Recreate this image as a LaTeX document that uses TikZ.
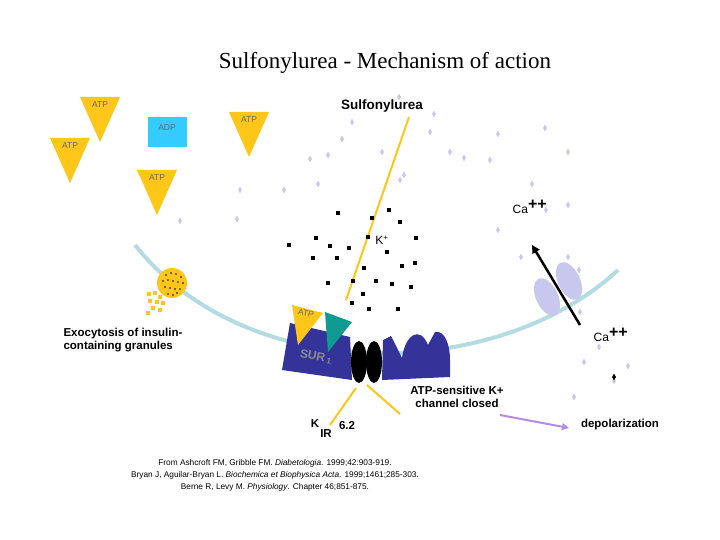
\documentclass[tikz,border=0pt]{standalone}
\usepackage{fontspec}
\setmainfont{Liberation Serif}
\setsansfont{Liberation Sans}
\usetikzlibrary{arrows.meta,shapes.geometric}
\definecolor{atpyel}{HTML}{FFC61A}
\definecolor{membr}{HTML}{B2DCE2}
\definecolor{lav}{HTML}{C8C8EE}
\definecolor{chanblue}{HTML}{33339A}
\definecolor{adpcyan}{HTML}{33CCFF}
\definecolor{tealx}{HTML}{0F9A92}
\definecolor{depol}{HTML}{B48CE6}
\begin{document}
\begin{tikzpicture}[x=1pt,y=-1pt,
    lbl/.style={font=\sffamily\bfseries\fontsize{11.5}{13}\selectfont, align=center, inner sep=1pt},
    atptxt/.style={font=\sffamily\fontsize{8.5}{9}\selectfont, text=black!60, inner sep=0pt},
    ref/.style={font=\sffamily\fontsize{8.3}{12}\selectfont, align=center},
    ion/.style={fill=black, minimum size=3.5pt, inner sep=0pt},
    dia/.style={fill=lav, diamond, minimum width=4pt, minimum height=7pt, inner sep=0pt},
    ca/.style={font=\sffamily\fontsize{12}{14}\selectfont, inner sep=1pt},
  ]
  \useasboundingbox (0,0) rectangle (720,540);
  % title
  \node[font=\fontsize{23}{26}\selectfont] (title) at (385,63) {Sulfonylurea - Mechanism of action};
  % membrane
  \draw[membr, line width=4pt] (135,245) .. controls (250,390) and (500,380) .. (618,270);
  % ATP / ADP
  \foreach \x/\y [count=\i] in {100/97, 70/138, 157/170, 249/112} {
    \fill[atpyel] (\x-20,\y) -- (\x+20,\y) -- (\x,\y+45) -- cycle;
    \node[atptxt] (atp\i) at (\x,\y+8) {ATP};
  }
  \fill[adpcyan] (148,117) rectangle (187,147);
  \node[atptxt] (adp) at (167,128) {ADP};
  % drug
  \node[lbl, font=\sffamily\bfseries\fontsize{13.5}{15}\selectfont] (sulf) at (382,106) {Sulfonylurea};
  \draw[atpyel, line width=2pt] (409,117) -- (346,300);
  % drug molecules
  \foreach \x/\y in {399/97,434/114,430/132,328/155,382/152,450/152,568/152,240/190,180/221,237/219,318/184,404/175,464/158,490/160,532/184,546/210,568/205,498/230,521/257,568/257,579/270,580/312,536/287,584/362,599/347,628/366,614/381,574/397,498/134,545/128,400/180,352/122,310/159,284/190,342/139} {
    \node[dia] at (\x,\y) {};
  }
  % K+ ions
  \foreach \x/\y in {338/213,372/218,389/210,400/222,289/245,316/238,330/246,349/248,368/237,416/238,313/258,337/258,387/252,415/263,364/268,402/266,328/283,353/281,376/281,392/284,363/294,352/303,369/309,398/309,411/287} {
    \node[ion] at (\x,\y) {};
  }
  \node[ca] (kion) at (382,240) {K\textsuperscript{+}};
  \node[ca] (ca1) at (530,207) {Ca\textsuperscript{\bfseries\fontsize{16}{16}\selectfont++}};
  \node[ca] (ca2) at (611,335) {Ca\textsuperscript{\bfseries\fontsize{16}{16}\selectfont++}};
  % calcium channel
  \fill[lav, rotate around={25:(547,297)}] (547,297) ellipse (11 and 20);
  \fill[lav, rotate around={25:(569,281)}] (569,281) ellipse (11 and 20);
  \coordinate (cabot) at (580,325);
  \coordinate (catop) at (532,245);
  \draw[line width=2.5pt, -{Triangle[length=8pt,width=8pt]}] (cabot) -- (catop);
  \node[fill=black, diamond, minimum width=4pt, minimum height=7pt, inner sep=0pt] (cad) at (614,377) {};
  % granule
  \fill[atpyel] (172,283) circle (15);
  \foreach \x/\y in {166/275,171/273,176/274,181/277,163/281,168/280,173/281,178/282,183/283,165/287,170/288,175/289,180/289,168/294,173/295,177/293} {
    \fill[black] (\x,\y) circle (0.9);
  }
  \foreach \x/\y in {149/294,155/293,160/297,150/301,157/302,163/303,153/308,160/310,148/313} {
    \fill[atpyel] (\x-2,\y-2) rectangle (\x+2,\y+2);
  }
  \node[lbl, align=left] (exo) at (123,340) {Exocytosis of insulin-\\containing granules};
  % K-ATP channel
  \fill[chanblue] (282,370) -- (290,323) -- (350,337) -- (352,380) -- cycle;
  \fill[chanblue] (382,380) -- (383,340) -- (391,336) -- (402,358) .. controls (405,335) and (420,325) .. (428,345) -- (435,332) .. controls (445,330) and (450,345) .. (450,360) -- (450,377) -- cycle;
  \fill[atpyel] (292,305) -- (323,313) -- (298,345) -- cycle;
  \node[atptxt, rotate=-12] (atpb) at (306,313) {ATP};
  \fill[tealx] (325,312) -- (352,322) -- (328,352) -- cycle;
  \node[font=\sffamily\bfseries\fontsize{12}{14}\selectfont, text=black!45, rotate=-10, inner sep=0pt] (sur) at (316,357) {SUR\,\textsubscript{1}};
  \fill[black] (359,362) ellipse (8 and 21);
  \fill[black] (374,362) ellipse (8 and 21);
  \coordinate (kirl) at (356,388);
  \coordinate (kirr) at (367,385);
  \draw[atpyel, line width=2pt] (kirl) -- (330,425);
  \draw[atpyel, line width=2pt] (kirr) -- (400,414);
  \node[lbl] (kch) at (457,397) {ATP-sensitive K+\\channel closed};
  \node[lbl] (kk) at (315,424) {K};
  \node[lbl] (k62) at (347,426) {6.2};
  \node[lbl] (kir) at (326,434) {IR};
  % depolarization
  \node[lbl] (depo) at (620,425) {depolarization};
  \coordinate (dstart) at (500,415);
  \draw[depol, line width=2pt, -{Triangle[length=7pt,width=7pt]}] (dstart) -- (569,428);
  % references
  \node[ref] (refs) at (275,475) {From Ashcroft FM, Gribble FM. \textit{Diabetologia}. 1999;42:903-919.\\
    Bryan J, Aguilar-Bryan L. \textit{Biochemica et Biophysica Acta}. 1999;1461;285-303.\\
    Berne R, Levy M. \textit{Physiology}. Chapter 46;851-875.};
\end{tikzpicture}
\end{document}
